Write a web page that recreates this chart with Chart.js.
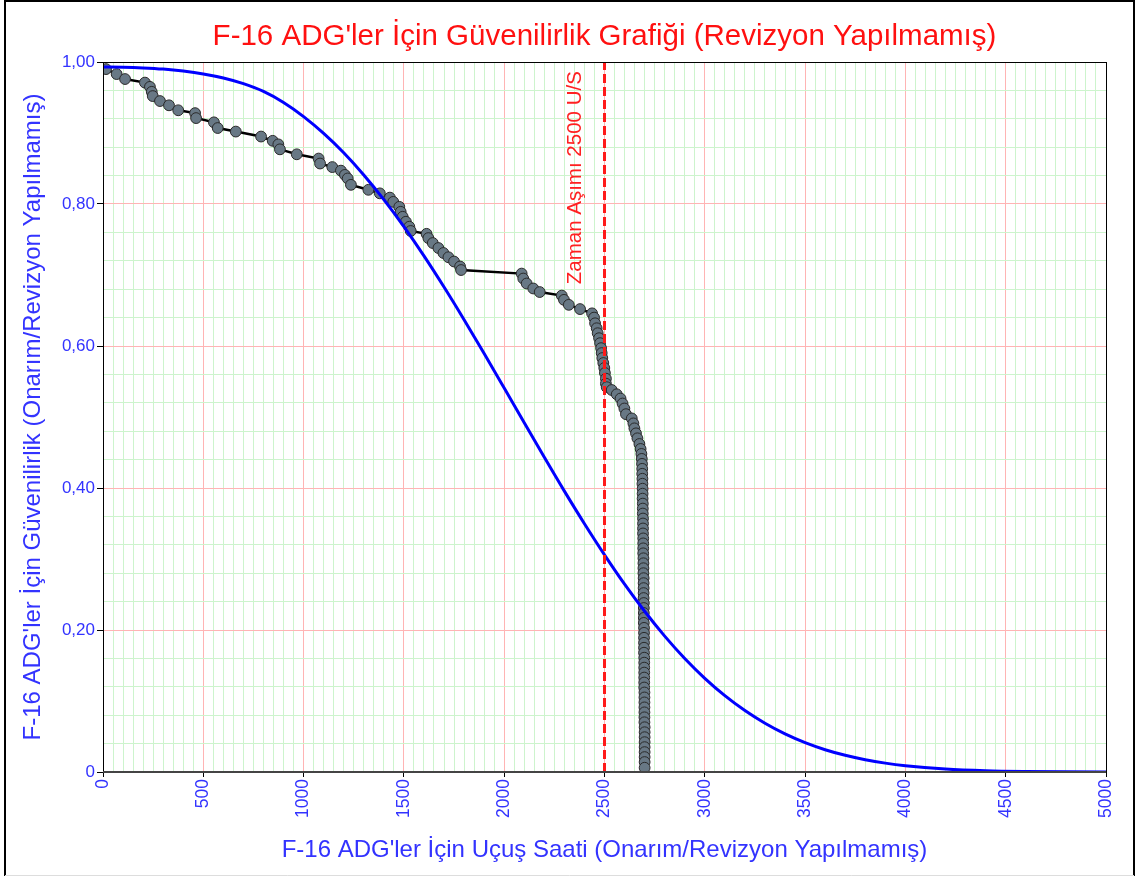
<!DOCTYPE html>
<html>
<head>
<meta charset="utf-8">
<script src="https://cdn.jsdelivr.net/npm/chart.js@4.4.1/dist/chart.umd.min.js"></script>
<style>
html,body{margin:0;padding:0;background:#fff;}
#wrap{width:1140px;height:876px;position:relative;}
</style>
</head>
<body>
<div id="wrap"><canvas id="c" width="1140" height="876"></canvas></div>
<script>
// ---------- DATA ----------
const chartTitle = "F-16 ADG'ler İçin Güvenilirlik Grafiği (Revizyon Yapılmamış)";
const xTitle = "F-16 ADG'ler İçin Uçuş Saati (Onarım/Revizyon Yapılmamış)";
const yTitle = "F-16 ADG'ler İçin Güvenilirlik (Onarım/Revizyon Yapılmamış)";
const xTickLabels = ['0','500','1000','1500','2000','2500','3000','3500','4000','4500','5000'];
const yTickLabels = ['0','0,20','0,40','0,60','0,80','1,00'];
const timeoutHours = 2500;
const timeoutLabel = 'Zaman Aşımı 2500 U/S';

// empirical failure points (hours, reliability)
const failHours = [
  15,68,110,209,234,243,248,284,329,375,459,464,553,572,662,788,846,874,882,966,
  1075,1082,1143,1186,1206,1220,1236,1323,1380,1430,1447,1477,1484,1494,1510,1527,1534,
  1613,1622,1644,1672,1697,1722,1750,1780,1785,
  2087,2095,2112,2145,2177,2287,2298,2322,2378,2438,2448,2453,2461,2466,2473,2478,2483,
  2486,2489,2494,2499,2502,2507,2507,2511,2536,2561,2580,2590,2599,2607,2636,2644,2649,
  2657,2664,2674,2680,2684,
  2686,2687,2688,2688,2689,2689,2690,2690,2690,2691,2691,2691,2692,2692,2692,2692,
  2693,2693,2693,2693,2694,2694,2694,2694,2695,2695,2695,2695,2695,2696,2696,2696,
  2696,2696,2697,2697,2697,2697,2697,2697,2698,2698,2698,2698,2698,2698,2698,2699,
  2699,2699,2699,2699,2699,2699,2700,2700,2700,2700,2700,2700,2700,2700,2700
];
const failReliability = [
  0.990,0.983,0.976,0.971,0.965,0.958,0.952,0.945,0.939,0.932,0.928,0.921,0.915,0.907,0.902,0.895,0.889,0.884,0.877,0.870,
  0.864,0.857,0.852,0.847,0.841,0.836,0.827,0.820,0.815,0.809,0.803,0.796,0.789,0.782,0.775,0.768,0.762,
  0.758,0.752,0.745,0.738,0.731,0.725,0.719,0.712,0.707,
  0.702,0.695,0.688,0.681,0.676,0.671,0.665,0.658,0.652,0.646,0.640,0.632,0.625,0.618,0.611,0.604,0.597,
  0.590,0.583,0.576,0.569,0.562,0.554,0.547,0.542,0.538,0.532,0.526,0.519,0.512,0.504,0.498,0.491,0.484,
  0.477,0.470,0.462,0.455,0.448,
  0.441,0.434,0.427,0.420,0.413,0.406,0.399,0.392,0.385,0.378,0.371,0.364,0.357,0.350,0.343,0.336,
  0.329,0.322,0.315,0.308,0.301,0.294,0.287,0.280,0.273,0.266,0.259,0.252,0.245,0.238,0.231,0.224,
  0.217,0.210,0.203,0.196,0.189,0.182,0.175,0.168,0.161,0.154,0.147,0.140,0.133,0.126,0.119,0.112,
  0.105,0.098,0.091,0.084,0.077,0.070,0.063,0.056,0.049,0.042,0.035,0.028,0.021,0.014,0.006
];

// fitted reliability curve (hours, reliability)
const curveHours = [0,100,200,300,400,500,600,700,800,900,1000,1100,1200,1300,1400,1500,1600,1700,1800,1900,
  2000,2100,2200,2300,2400,2500,2600,2700,2800,2900,3000,3100,3200,3300,3400,3500,3600,3700,3800,3900,
  4000,4200,4400,4600,4800,5000];
const curveReliability = [0.993,0.9927,0.9917,0.9900,0.9872,0.9832,0.9775,0.9695,0.9585,0.9430,0.9231,0.8994,0.8721,0.8409,0.8062,0.7681,0.7269,0.6830,0.6370,0.5894,
  0.5408,0.4918,0.4433,0.3956,0.3497,0.3059,0.2646,0.2264,0.1914,0.1599,0.1320,0.1075,0.0865,0.0686,0.0536,0.0413,0.0314,0.0235,0.0173,0.0125,
  0.0089,0.0043,0.0019,0.0008,0.0003,0.0001];

// ---------- CHART ----------
const FONT = "'Liberation Sans', Arial, sans-serif";
const BLUE_TXT = '#3333ff';
const MAJOR = '#ffb4b4';
const MINOR = '#cdf4cd';

const failData = failHours.map((h,i)=>({x:h,y:failReliability[i]}));
const curveData = curveHours.map((h,i)=>({x:h,y:curveReliability[i]}));
const timeoutData = [{x:timeoutHours,y:0},{x:timeoutHours,y:1}];

const framePlugin = {
  id:'frame',
  beforeDraw(chart){
    const ctx = chart.ctx;
    ctx.save();
    ctx.fillStyle = '#fff';
    ctx.fillRect(0,0,chart.width,chart.height);
    ctx.restore();
  },
  afterDatasetsDraw(chart){
    const {ctx, scales} = chart;
    ctx.save();
    const xp = scales.x.getPixelForValue(timeoutHours);
    const yp = scales.y.getPixelForValue(0.837);
    ctx.translate(xp - 29, yp);
    ctx.rotate(-Math.PI/2);
    ctx.fillStyle = '#ff2020';
    ctx.font = '20.5px ' + FONT;
    ctx.textAlign = 'center';
    ctx.textBaseline = 'middle';
    ctx.fillText(timeoutLabel, 0, 0);
    ctx.restore();
  },
  afterDraw(chart){
    const {ctx, chartArea:a} = chart;
    ctx.save();
    ctx.strokeStyle = '#000';
    ctx.lineWidth = 1;
    ctx.strokeRect(Math.round(a.left)+0.5, Math.round(a.top)+0.5, Math.round(a.right-a.left), Math.round(a.bottom-a.top));
    ctx.strokeStyle = '#444';
    ctx.lineWidth = 2;
    ctx.beginPath();
    ctx.moveTo(a.left, Math.round(a.bottom)); ctx.lineTo(a.right, Math.round(a.bottom));
    ctx.stroke();
    ctx.strokeStyle = '#000';
    ctx.lineWidth = 2;
    ctx.beginPath();
    ctx.moveTo(5, 876); ctx.lineTo(5, 1); ctx.lineTo(1134, 1); ctx.lineTo(1134, 876);
    ctx.stroke();
    ctx.strokeStyle = '#ddd';
    ctx.lineWidth = 1;
    ctx.beginPath();
    ctx.moveTo(5, 875.5); ctx.lineTo(1134, 875.5);
    ctx.stroke();
    ctx.restore();
  }
};

new Chart(document.getElementById('c'), {
  type:'scatter',
  data:{
    datasets:[
      {
        label:'Zaman Aşımı',
        data:timeoutData,
        showLine:true,
        borderColor:'#ff1a1a',
        borderWidth:3,
        borderDash:[9,4],
        pointRadius:0,
        order:0
      },
      {
        label:'Güvenilirlik Eğrisi',
        data:curveData,
        showLine:true,
        borderColor:'#0000ff',
        borderWidth:3,
        cubicInterpolationMode:'monotone',
        pointRadius:0,
        order:1
      },
      {
        label:'Arızalar',
        data:failData,
        showLine:true,
        borderColor:'#000',
        borderWidth:2.5,
        tension:0,
        pointRadius:5.4,
        pointBackgroundColor:'#687885',
        pointBorderColor:'#2a2a2a',
        pointBorderWidth:1,
        order:2
      }
    ]
  },
  options:{
    responsive:false,
    animation:false,
    events:[],
    layout:{padding:{left:0,right:34,top:0,bottom:0}},
    plugins:{
      legend:{display:false},
      tooltip:{enabled:false},
      title:{
        display:true,
        text:chartTitle,
        color:'#ff1010',
        fullSize:false,
        font:{family:FONT,size:29.5,weight:'normal'},
        padding:{top:19.3,bottom:7.3}
      }
    },
    scales:{
      x:{
        type:'linear',
        min:0,max:5000,
        afterFit(s){ s.height = 104; },
        border:{display:true,color:'#000',width:1},
        grid:{
          color:(c)=> (c.index % 10 === 0 ? MAJOR : MINOR),
          lineWidth:1,
          tickLength:5,
          tickColor:(c)=> (c.index % 10 === 0 ? '#000' : 'rgba(0,0,0,0)')
        },
        ticks:{
          stepSize:50,
          autoSkip:false,
          minRotation:90,maxRotation:90,
          padding:2,
          color:BLUE_TXT,
          font:{family:FONT,size:17.5},
          callback:(v,i)=> (i % 10 === 0 ? xTickLabels[i/10] : '')
        },
        title:{
          display:true,
          text:xTitle,
          color:BLUE_TXT,
          font:{family:FONT,size:24},
          padding:{top:0,bottom:11.6}
        }
      },
      y:{
        type:'linear',
        min:0,max:1,
        afterFit(s){ s.width = 103; },
        border:{display:true,color:'#000',width:1},
        grid:{
          color:(c)=> (c.index % 5 === 0 ? MAJOR : MINOR),
          lineWidth:1,
          tickLength:6,
          tickColor:(c)=> (c.index % 5 === 0 ? '#000' : 'rgba(0,0,0,0)')
        },
        ticks:{
          stepSize:0.04,
          autoSkip:false,
          padding:2,
          color:BLUE_TXT,
          font:{family:FONT,size:17},
          callback:(v,i)=> (i % 5 === 0 ? yTickLabels[i/5] : '')
        },
        title:{
          display:true,
          text:yTitle,
          color:BLUE_TXT,
          font:{family:FONT,size:24},
          padding:{top:18.6,bottom:0}
        }
      }
    }
  },
  plugins:[framePlugin]
});
</script>
</body>
</html>
